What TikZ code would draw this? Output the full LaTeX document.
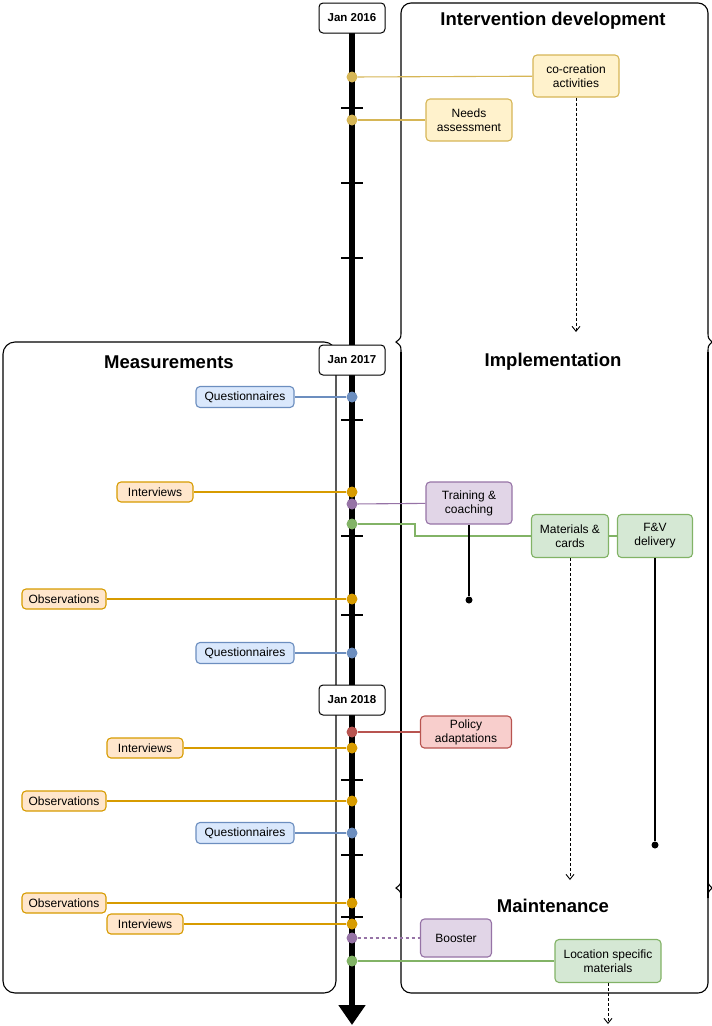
\documentclass[tikz,border=0pt]{standalone}
\usepackage{fontspec}
\setmainfont{Liberation Sans}
\usetikzlibrary{arrows.meta}
\definecolor{yS}{HTML}{D6B656}\definecolor{yF}{HTML}{FFF2CC}
\definecolor{oS}{HTML}{D79B00}\definecolor{oF}{HTML}{FFE6CC}
\definecolor{bS}{HTML}{6C8EBF}\definecolor{bF}{HTML}{DAE8FC}
\definecolor{pS}{HTML}{9673A6}\definecolor{pF}{HTML}{E1D5E7}
\definecolor{gS}{HTML}{82B366}\definecolor{gF}{HTML}{D5E8D4}
\definecolor{rS}{HTML}{B85450}\definecolor{rF}{HTML}{F8CECC}
\begin{document}
\begin{tikzpicture}[x=1pt,y=-1pt,
 box/.style={draw,rounded corners=4pt,line width=1.1pt,align=center,font=\fontsize{12}{14}\selectfont,inner sep=1pt},
 yb/.style={box,draw=yS,fill=yF},ob/.style={box,draw=oS,fill=oF},bb/.style={box,draw=bS,fill=bF},
 pb/.style={box,draw=pS,fill=pF},gb/.style={box,draw=gS,fill=gF},rb/.style={box,draw=rS,fill=rF},
 date/.style={draw,line width=1pt,rounded corners=4pt,fill=white,font=\bfseries\fontsize{11.5}{13}\selectfont,minimum width=66pt,minimum height=30pt,inner sep=1pt},
 title/.style={font=\bfseries\fontsize{18.5}{21}\selectfont},
 dot/.style={circle,inner sep=0pt,minimum size=11pt},
 conn/.style={line width=1.1pt},
 frame/.style={line width=1.1pt},
 tick/.style={line width=2.2pt},
 darr/.style={densely dashed,-{Straight Barb[length=5pt,width=8pt]},line width=0.9pt}]
\useasboundingbox (0,0) rectangle (712,1026);
% panels
\draw[frame,rounded corners=12pt] (3,342) rectangle (336,993);
\node[title] at (169,362) {Measurements};
\draw[frame,rounded corners=10pt] (401,332) -- (401,3) -- (708,3) -- (708,332);
\draw[frame,rounded corners=10pt] (401,898) -- (401,993) -- (708,993) -- (708,898);
\draw[frame] (401,898) -- (401,352) (708,898) -- (708,352);
\draw[frame] (401,332) .. controls (401,338) .. (396,342) .. controls (401,346) .. (401,352);
\draw[frame] (708,332) .. controls (708,338) .. (712,342) .. controls (708,346) .. (708,352);
\draw[frame] (401,878) .. controls (401,884) .. (396,888) .. controls (401,892) .. (401,898);
\draw[frame] (708,878) .. controls (708,884) .. (712,888) .. controls (708,892) .. (708,898);
\node[title] at (553,21) {Intervention development};
\node[title] at (553,362) {Implementation};
\node[title] at (553,906) {Maintenance};
% timeline
\coordinate (t0) at (352,30); \coordinate (t1) at (352,1025);
\draw[line width=5.5pt,-{Triangle[length=20pt,width=26pt]}] (t0) -- (t1);
\foreach \yy in {108,183,258,420,536,615,780,855,917} \draw[tick] (341,\yy) -- (363,\yy);
\node[date] (d16) at (352,18) {Jan 2016};
\node[date] (d17) at (352,360) {Jan 2017};
\node[date] (d18) at (352,700) {Jan 2018};
% nodes
\node[yb,minimum width=86pt,minimum height=42pt] (cc) at (576,76) {co-creation\\activities};
\node[yb,minimum width=86pt,minimum height=42pt] (na) at (469,120) {Needs\\assessment};
\node[bb,minimum width=98pt,minimum height=21pt] (q1) at (245,397) {Questionnaires};
\node[ob,minimum width=76pt,minimum height=20pt] (i1) at (155,492) {Interviews};
\node[pb,minimum width=86pt,minimum height=42pt] (tc) at (469,503) {Training \&\\coaching};
\node[gb,minimum width=77pt,minimum height=43pt] (mc) at (570,536) {Materials \&\\cards};
\node[gb,minimum width=75pt,minimum height=43pt] (fv) at (655,536) {F\&V\\delivery};
\node[ob,minimum width=84pt,minimum height=20pt] (o1) at (64,599) {Observations};
\node[bb,minimum width=98pt,minimum height=21pt] (q2) at (245,653) {Questionnaires};
\node[rb,minimum width=91pt,minimum height=32pt] (pol) at (466,732) {Policy\\adaptations};
\node[ob,minimum width=76pt,minimum height=20pt] (i2) at (145,748) {Interviews};
\node[ob,minimum width=84pt,minimum height=20pt] (o2) at (64,801) {Observations};
\node[bb,minimum width=98pt,minimum height=21pt] (q3) at (245,833) {Questionnaires};
\node[ob,minimum width=84pt,minimum height=20pt] (o3) at (64,903) {Observations};
\node[ob,minimum width=76pt,minimum height=20pt] (i3) at (145,924) {Interviews};
\node[pb,minimum width=71pt,minimum height=38pt] (bo) at (456,938) {Booster};
\node[gb,minimum width=106pt,minimum height=43pt] (ls) at (608,961) {Location specific\\materials};
% dots & connectors
\foreach \nn/\yy/\cl/\tg in {1/77/yS/cc,2/120/yS/na,3/397/bS/q1,4/492/oS/i1,5/504/pS/tc,6/599/oS/o1,7/653/bS/q2,8/732/rS/pol,9/748/oS/i2,10/801/oS/o2,11/833/bS/q3,12/903/oS/o3,13/924/oS/i3,14/961/gS/ls}{
  \node[dot,fill=\cl] (dt\nn) at (352,\yy) {};
  \draw[conn,draw=\cl] (dt\nn) -- (\tg);
}
\node[dot,fill=gS] (dtf) at (352,524) {};
\draw[conn,draw=gS] (dtf) -- (415,524) -- (415,536) -- (mc.west);
\draw[conn,draw=gS] (mc) -- (fv);
\node[dot,fill=pS] (dtb) at (352,938) {};
\draw[conn,draw=pS,dashed] (dtb) -- (bo);
% downward lines
\coordinate (e1) at (576,332); \draw[darr] (cc.south) -- (e1);
\coordinate (e2) at (570,880); \draw[darr] (mc.south) -- (e2);
\coordinate (e3) at (608,1024); \draw[darr] (ls.south) -- (e3);
\node[circle,fill,inner sep=0pt,minimum size=7pt] (tcd) at (469,600) {};
\draw[line width=1.1pt] (tc.south) -- (tcd);
\node[circle,fill,inner sep=0pt,minimum size=7pt] (fvd) at (655,845) {};
\draw[line width=1.1pt] (fv.south) -- (fvd);
\end{tikzpicture}
\end{document}
